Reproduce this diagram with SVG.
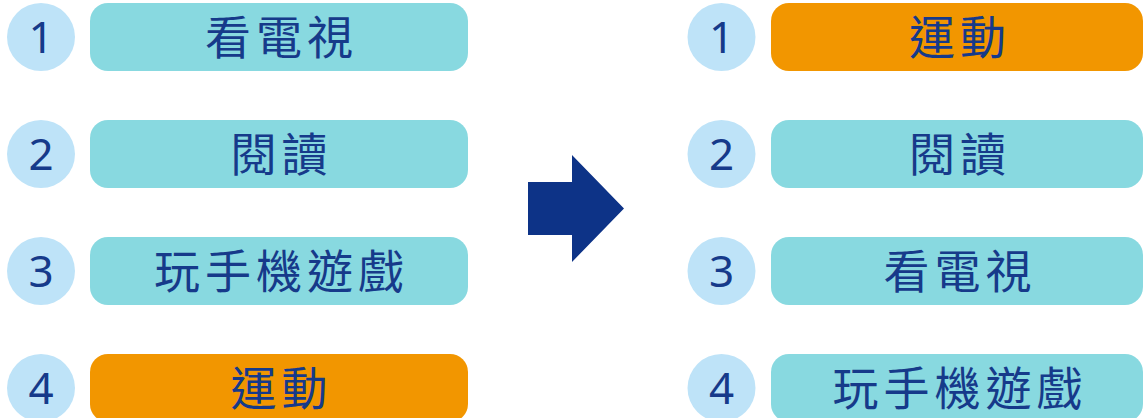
<svg xmlns="http://www.w3.org/2000/svg" width="1144" height="418" viewBox="0 0 1144 418">
<style>
.num{fill:#bee3f8}
.bar{fill:#88d9e0}
.hl{fill:#f29600}
.nt{font-family:"Noto Sans","Liberation Sans",sans-serif;font-size:44px;fill:#163a8a;text-anchor:middle}
.lt{font-family:"Noto Sans CJK TC","Noto Sans CJK SC",sans-serif;font-size:46px;fill:#163a8a;text-anchor:middle;letter-spacing:5px}
</style>
<rect width="1144" height="418" fill="#ffffff"/>
<g id="left-1"><circle class="num" cx="41" cy="37" r="34"/><text class="nt" x="41" y="53">1</text><rect class="bar" x="90" y="3" width="378" height="68" rx="18"/><text class="lt" x="281.5" y="54">看電視</text></g>
<g id="left-2"><circle class="num" cx="41" cy="154" r="34"/><text class="nt" x="41" y="170">2</text><rect class="bar" x="90" y="120" width="378" height="68" rx="18"/><text class="lt" x="281.5" y="171">閱讀</text></g>
<g id="left-3"><circle class="num" cx="41" cy="271" r="34"/><text class="nt" x="41" y="287">3</text><rect class="bar" x="90" y="237" width="378" height="68" rx="18"/><text class="lt" x="281.5" y="288">玩手機遊戲</text></g>
<g id="left-4"><circle class="num" cx="41" cy="388" r="34"/><text class="nt" x="41" y="404">4</text><rect class="hl" x="90" y="354" width="378" height="68" rx="18"/><text class="lt" x="281.5" y="405">運動</text></g>
<g id="arrow"><polygon points="528,182 572,182 572,155 624,208.5 572,262 572,235 528,235" fill="#0d3387"/></g>
<g id="right-1"><circle class="num" cx="721.5" cy="37" r="34"/><text class="nt" x="721.5" y="53">1</text><rect class="hl" x="771" y="3" width="372" height="68" rx="18"/><text class="lt" x="960" y="54">運動</text></g>
<g id="right-2"><circle class="num" cx="721.5" cy="154" r="34"/><text class="nt" x="721.5" y="170">2</text><rect class="bar" x="771" y="120" width="372" height="68" rx="18"/><text class="lt" x="960" y="171">閱讀</text></g>
<g id="right-3"><circle class="num" cx="721.5" cy="271" r="34"/><text class="nt" x="721.5" y="287">3</text><rect class="bar" x="771" y="237" width="372" height="68" rx="18"/><text class="lt" x="960" y="288">看電視</text></g>
<g id="right-4"><circle class="num" cx="721.5" cy="388" r="34"/><text class="nt" x="721.5" y="404">4</text><rect class="bar" x="771" y="354" width="372" height="68" rx="18"/><text class="lt" x="960" y="405">玩手機遊戲</text></g>
<g id="connectors"/>
</svg>
